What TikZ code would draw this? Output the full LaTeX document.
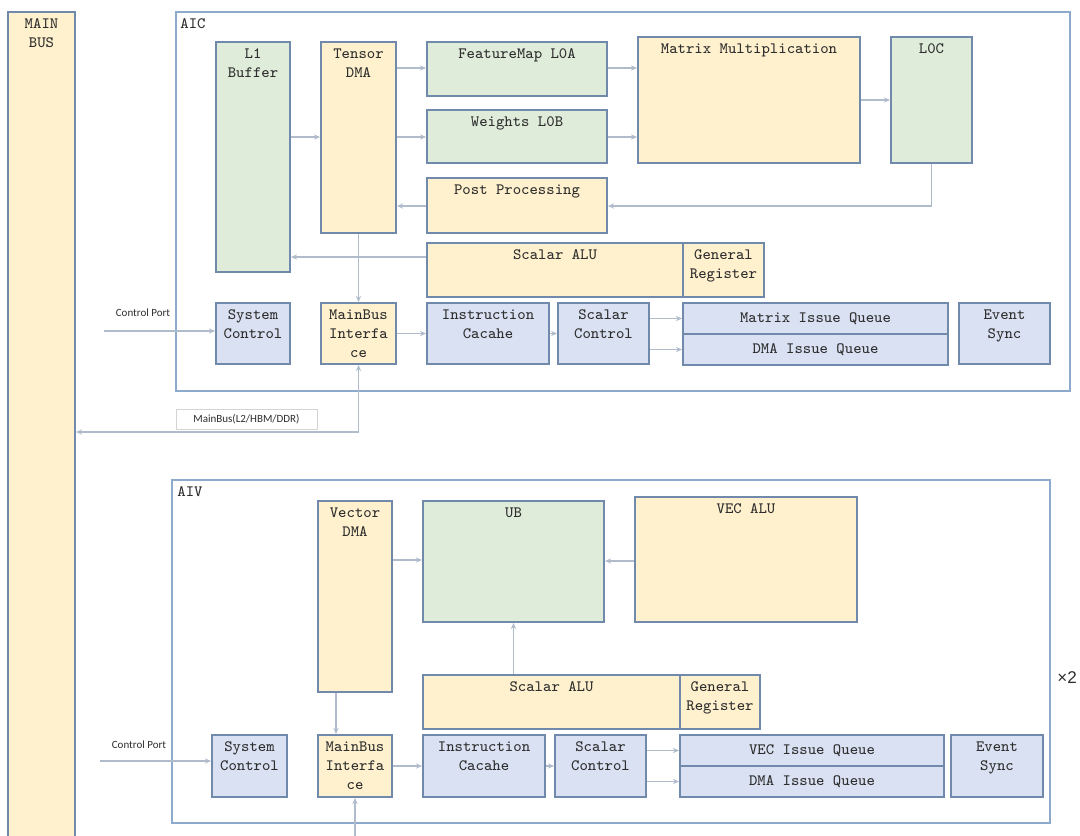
\documentclass[tikz,border=0pt]{standalone}
\usepackage{fontspec}
\setmainfont{Liberation Serif}
\newfontfamily\smallfont{Carlito}
\usetikzlibrary{arrows.meta,fit}
\definecolor{orangefill}{HTML}{FFF1CE}
\definecolor{greenfill}{HTML}{E0ECDA}
\definecolor{bluefill}{HTML}{D9E1F3}
\definecolor{boxline}{HTML}{7189AA}
\definecolor{frameline}{HTML}{8DA9CC}
\definecolor{connline}{HTML}{B0BCCB}
\definecolor{txtc}{HTML}{2E2E2E}
\definecolor{tagline}{HTML}{D4D4D4}
\begin{document}
\begin{tikzpicture}[x=0.5pt,y=-0.5pt,
  >={Stealth[length=3pt,width=2.6pt]},
  txt/.style={font=\ttfamily\fontsize{7.9}{9.5}\selectfont, text=txtc, align=center, inner sep=0pt},
  box/.style={draw=boxline, line width=1pt, inner sep=0pt},
  ob/.style={box, fill=orangefill},
  gb/.style={box, fill=greenfill},
  bb/.style={box, fill=bluefill},
  toptext/.style={label={[txt,anchor=north,yshift=-3.6pt]north:{#1}}},
  frame/.style={draw=frameline, line width=0.9pt, inner sep=0pt},
  conn/.style={draw=connline, line width=0.7pt, ->},
  small/.style={font=\smallfont\fontsize{5.5}{6}\selectfont, text=txtc, inner sep=0pt},
  tag/.style={draw=tagline, line width=0.5pt, fill=white, inner sep=0pt}
]
\useasboundingbox (0,0) rectangle (1080,835);
\clip (0,0) rectangle (1080,835);
\fill[white] (0,0) rectangle (1080,835);

% main bus
\node[ob, fit={(8,12)(75,870)}, toptext={MAIN\\BUS}] (mb) {};

% ===== AIC =====
\node[frame, fit={(176,12)(1070,391)}] (aic) {};
\node[txt, anchor=north west] (aict) at (180,18) {AIC};

\node[gb, fit={(216,42)(290,272)}, toptext={L1\\Buffer}] (l1) {};
\node[ob, fit={(321,42)(396,233)}, toptext={Tensor\\DMA}] (tdma) {};
\node[gb, fit={(427,42)(607,96)}, toptext={FeatureMap L0A}] (fm) {};
\node[gb, fit={(427,110)(607,163)}, toptext={Weights L0B}] (wt) {};
\node[ob, fit={(427,178)(607,233)}, toptext={Post Processing}] (pp) {};
\node[ob, fit={(638,37)(860,163)}, toptext={Matrix Multiplication}] (mm) {};
\node[gb, fit={(891,37)(972,163)}, toptext={L0C}] (l0c) {};
\node[ob, fit={(427,243)(683,297)}, toptext={Scalar ALU}] (salu) {};
\node[ob, fit={(683,243)(764,297)}, toptext={General\\Register}] (greg) {};

\node[bb, fit={(216,303)(290,364)}, toptext={System\\Control}] (sys) {};
\node[ob, fit={(321,303)(396,364)}, toptext={MainBus\\Interfa\\ce}] (mbi) {};
\node[bb, fit={(427,303)(549,364)}, toptext={Instruction\\Cacahe}] (ic) {};
\node[bb, fit={(558,303)(649,364)}, toptext={Scalar\\Control}] (sc) {};
\node[bb, fit={(683,303)(948,334)}] (miq) {};
\node[txt] at (miq.center) {Matrix Issue Queue};
\node[bb, fit={(683,334)(948,365)}] (diq) {};
\node[txt] at (diq.center) {DMA Issue Queue};
\node[bb, fit={(959,303)(1050,364)}, toptext={Event\\Sync}] (es) {};

% AIC connectors
\draw[conn] (l1.east |- 0,137) -- (tdma.west |- 0,137);
\draw[conn] (tdma.east |- 0,68) -- (fm.west |- 0,68);
\draw[conn] (tdma.east |- 0,137) -- (wt.west |- 0,137);
\draw[conn] (pp.west |- 0,206) -- (tdma.east |- 0,206);
\draw[conn] (fm.east |- 0,68) -- (mm.west |- 0,68);
\draw[conn] (wt.east |- 0,137) -- (mm.west |- 0,137);
\draw[conn] (mm.east |- 0,100) -- (l0c.west |- 0,100);
\draw[conn] (l0c.south) |- (pp.east |- 0,206);
\draw[conn] (salu.west |- 0,257) -- (l1.east |- 0,257);
\draw[conn] (tdma.south) -- (mbi.north);
\draw[conn] (mbi.east) -- (ic.west);
\draw[conn] (ic.east) -- (sc.west);
\draw[conn] (sc.east |- miq.west) -- (miq.west);
\draw[conn] (sc.east |- diq.west) -- (diq.west);
\coordinate (cpa) at (104,331);
\draw[conn] (cpa) -- (cpa -| sys.west);
\node[small] (cpat) at (143,313) {Control Port};
\node[tag, fit={(176,409)(317,429)}] (mbt) {};
\node[small] at (mbt.center) {MainBus(L2/HBM/DDR)};
\draw[conn, <->] (mb.east |- 0,432) -| (mbi.south);

% ===== AIV =====
\node[frame, fit={(172,480)(1050,823)}] (aiv) {};
\node[txt, anchor=north west] (aivt) at (177,486) {AIV};

\node[ob, fit={(318,501)(392,692)}, toptext={Vector\\DMA}] (vdma) {};
\node[gb, fit={(423,501)(604,622)}, toptext={UB}] (ub) {};
\node[ob, fit={(635,497)(857,622)}, toptext={VEC ALU}] (valu) {};
\node[ob, fit={(423,675)(680,729)}, toptext={Scalar ALU}] (salu2) {};
\node[ob, fit={(680,675)(760,729)}, toptext={General\\Register}] (greg2) {};

\node[bb, fit={(212,735)(287,797)}, toptext={System\\Control}] (sys2) {};
\node[ob, fit={(318,735)(392,797)}, toptext={MainBus\\Interfa\\ce}] (mbi2) {};
\node[bb, fit={(423,735)(545,797)}, toptext={Instruction\\Cacahe}] (ic2) {};
\node[bb, fit={(555,735)(646,797)}, toptext={Scalar\\Control}] (sc2) {};
\node[bb, fit={(680,735)(944,766)}] (vq) {};
\node[txt] at (vq.center) {VEC Issue Queue};
\node[bb, fit={(680,766)(944,797)}] (dq2) {};
\node[txt] at (dq2.center) {DMA Issue Queue};
\node[bb, fit={(951,735)(1043,797)}, toptext={Event\\Sync}] (es2) {};

% AIV connectors
\draw[conn] (vdma.east |- 0,560) -- (ub.west |- 0,560);
\draw[conn] (valu.west |- 0,561) -- (ub.east |- 0,561);
\draw[conn] (ub.south |- salu2.north) -- (ub.south);
\draw[conn] (vdma.south -| 336,0) -- (mbi2.north -| 336,0);
\draw[conn] (mbi2.east) -- (ic2.west);
\draw[conn] (ic2.east) -- (sc2.west);
\draw[conn] (sc2.east |- vq.west) -- (vq.west);
\draw[conn] (sc2.east |- dq2.west) -- (dq2.west);
\coordinate (cpb) at (100,761);
\draw[conn] (cpb) -- (cpb -| sys2.west);
\node[small] (cpbt) at (139,745) {Control Port};
\coordinate (mbv) at (355,850);
\draw[conn] (mbv) -- (mbv |- mbi2.south);

\node[font=\fontspec{Liberation Sans}\fontsize{8.5}{10}\selectfont, text=txtc, anchor=west, inner sep=0pt] (x2) at (1057,678) {×2};
\end{tikzpicture}
\end{document}
